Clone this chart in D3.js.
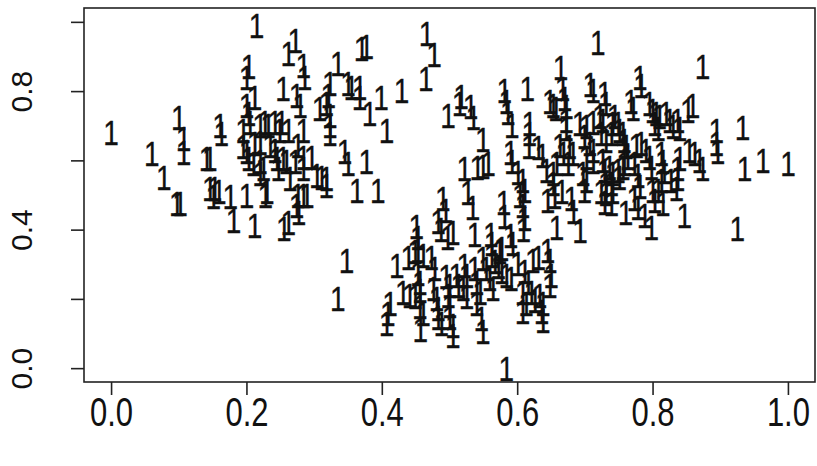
<!DOCTYPE html>
<html>
<head>
<meta charset="utf-8">
<script src="https://cdn.jsdelivr.net/npm/d3@7/dist/d3.min.js"></script>
<style>
  html, body { margin: 0; padding: 0; background: #fff; }
  svg { display: block; }
  text { font-family: "Liberation Sans", Arial, Helvetica, sans-serif; fill: #111; }
</style>
</head>
<body>
<svg id="chart" width="817" height="466"></svg>
<script>
// ---- data ----
const pointLabel = "1";
const xTicks = [0, 0.2, 0.4, 0.6, 0.8, 1.0];
const xTickLabels = ["0.0", "0.2", "0.4", "0.6", "0.8", "1.0"];
const yTicks = [0, 0.2, 0.4, 0.6, 0.8, 1.0];
const yTickLabels = ["0.0", "", "0.4", "", "0.8", ""];

// left cluster
const groupA = [
  [0.00,0.68],[0.06,0.62],[0.078,0.552],[0.097,0.476],[0.102,0.476],[0.100,0.723],[0.107,0.663],[0.107,0.624],
  [0.141,0.606],[0.146,0.606],[0.146,0.519],[0.153,0.519],[0.159,0.509],[0.151,0.495],[0.161,0.702],[0.163,0.678],
  [0.176,0.495],[0.181,0.427],[0.200,0.500],[0.212,0.413],[0.228,0.500],[0.195,0.687],[0.215,0.991],[0.272,0.947],
  [0.262,0.909],[0.377,0.928],[0.370,0.923],[0.203,0.870],[0.284,0.875],[0.335,0.880],[0.200,0.841],[0.286,0.841],
  [0.254,0.808],[0.323,0.822],[0.350,0.822],[0.355,0.812],[0.367,0.812],[0.274,0.788],[0.279,0.759],[0.321,0.788],
  [0.212,0.783],[0.200,0.759],[0.308,0.750],[0.318,0.764],[0.399,0.783],[0.429,0.803],[0.367,0.783],[0.382,0.736],
  [0.407,0.687],[0.323,0.731],[0.323,0.702],[0.323,0.678],[0.203,0.736],[0.205,0.711],[0.220,0.702],[0.227,0.711],
  [0.232,0.702],[0.242,0.711],[0.252,0.711],[0.249,0.687],[0.262,0.687],[0.284,0.687],[0.195,0.639],[0.200,0.625],
  [0.212,0.649],[0.220,0.653],[0.235,0.644],[0.242,0.630],[0.276,0.644],[0.203,0.606],[0.210,0.591],[0.220,0.596],
  [0.225,0.577],[0.245,0.606],[0.254,0.606],[0.259,0.596],[0.272,0.596],[0.284,0.610],[0.296,0.610],[0.284,0.577],
  [0.345,0.625],[0.350,0.591],[0.377,0.596],[0.304,0.557],[0.311,0.552],[0.318,0.548],[0.220,0.562],[0.247,0.577],
  [0.264,0.548],[0.230,0.509],[0.276,0.500],[0.284,0.500],[0.289,0.500],[0.274,0.471],[0.363,0.514],[0.394,0.514],
  [0.255,0.404],[0.262,0.422],[0.277,0.451],[0.318,0.528]
];

// right / lower cluster
const groupB = [
  [0.466,0.967],[0.477,0.907],[0.465,0.837],[0.498,0.731],[0.515,0.764],[0.517,0.785],[0.531,0.755],[0.535,0.723],
  [0.549,0.661],[0.522,0.578],[0.541,0.579],[0.549,0.583],[0.557,0.591],[0.581,0.803],[0.584,0.771],[0.586,0.739],
  [0.592,0.702],[0.615,0.808],[0.618,0.708],[0.618,0.678],[0.590,0.624],[0.592,0.598],[0.601,0.566],[0.608,0.543],
  [0.611,0.514],[0.617,0.639],[0.631,0.637],[0.637,0.615],[0.643,0.572],[0.648,0.771],[0.653,0.759],[0.657,0.750],
  [0.664,0.868],[0.719,0.942],[0.667,0.808],[0.670,0.779],[0.672,0.755],[0.672,0.716],[0.672,0.692],[0.663,0.644],
  [0.668,0.620],[0.677,0.639],[0.682,0.620],[0.675,0.591],[0.658,0.591],[0.653,0.562],[0.653,0.533],
  [0.645,0.485],[0.655,0.497],[0.666,0.511],[0.680,0.491],[0.683,0.453],
  [0.708,0.820],[0.712,0.803],[0.729,0.793],[0.731,0.764],[0.692,0.707],[0.702,0.697],[0.712,0.711],[0.722,0.726],
  [0.726,0.716],[0.699,0.668],[0.707,0.649],[0.712,0.630],[0.702,0.610],[0.712,0.596],[0.724,0.678],[0.731,0.658],
  [0.739,0.678],[0.726,0.601],[0.729,0.572],[0.731,0.533],[0.724,0.509],[0.731,0.504],[0.739,0.533],[0.697,0.562],
  [0.702,0.543],[0.699,0.514],[0.658,0.407],[0.693,0.399],
  [0.537,0.387],[0.561,0.387],[0.590,0.384],[0.609,0.401],[0.527,0.508],[0.534,0.465],
  [0.490,0.491],[0.494,0.456],[0.483,0.424],[0.487,0.401],[0.497,0.378],[0.505,0.393],
  [0.580,0.479],[0.581,0.439],[0.604,0.500],[0.608,0.471],[0.611,0.432],[0.593,0.361],
  [0.451,0.408],[0.453,0.378],[0.562,0.360],
  [0.348,0.312],[0.335,0.201],[0.422,0.297],[0.439,0.321],[0.449,0.336],[0.453,0.341],[0.461,0.326],[0.473,0.321],
  [0.478,0.288],[0.453,0.273],[0.456,0.249],[0.431,0.220],[0.441,0.211],[0.449,0.206],[0.412,0.187],[0.409,0.158],
  [0.407,0.129],[0.456,0.177],[0.461,0.158],[0.457,0.113],[0.476,0.230],[0.481,0.201],[0.483,0.172],[0.483,0.148],
  [0.488,0.129],[0.495,0.264],[0.500,0.240],[0.498,0.211],[0.500,0.182],[0.500,0.148],[0.505,0.124],[0.505,0.095],
  [0.510,0.269],[0.513,0.240],[0.522,0.297],[0.525,0.269],[0.520,0.230],[0.525,0.206],[0.537,0.288],[0.540,0.249],
  [0.545,0.220],[0.540,0.187],[0.547,0.144],[0.549,0.105],[0.549,0.317],[0.554,0.288],[0.559,0.259],[0.564,0.230],
  [0.562,0.326],[0.567,0.307],[0.572,0.293],[0.577,0.278],[0.584,0.269],[0.591,0.259],[0.574,0.336],[0.577,0.346],
  [0.601,0.302],[0.611,0.278],[0.616,0.249],[0.608,0.220],[0.613,0.187],[0.608,0.163],[0.623,0.312],[0.631,0.321],
  [0.645,0.341],[0.648,0.312],[0.621,0.220],[0.626,0.196],[0.633,0.211],[0.638,0.187],[0.636,0.163],[0.648,0.240],
  [0.650,0.269],[0.584,0.000],[0.456,0.225],[0.638,0.139],
  [0.729,0.480],[0.760,0.450],[0.773,0.490],[0.778,0.465],[0.788,0.442],[0.798,0.407],[0.847,0.442],[0.925,0.404],
  [0.835,0.519],[0.874,0.870],[0.781,0.841],[0.783,0.817],[0.768,0.769],[0.771,0.750],[0.795,0.764],[0.800,0.745],
  [0.805,0.736],[0.810,0.726],[0.803,0.707],[0.808,0.692],[0.820,0.736],[0.825,0.716],[0.830,0.697],[0.837,0.716],
  [0.840,0.692],[0.852,0.745],[0.859,0.759],[0.894,0.687],[0.894,0.649],[0.896,0.625],[0.933,0.694],[0.854,0.630],
  [0.862,0.620],[0.869,0.601],[0.874,0.577],[0.840,0.606],[0.837,0.577],[0.837,0.548],[0.827,0.543],[0.813,0.620],
  [0.815,0.596],[0.817,0.567],[0.813,0.543],[0.808,0.514],[0.815,0.476],[0.803,0.485],[0.800,0.514],[0.790,0.630],
  [0.795,0.610],[0.798,0.581],[0.783,0.649],[0.776,0.644],[0.773,0.591],[0.778,0.557],[0.781,0.524],[0.756,0.678],
  [0.758,0.658],[0.761,0.639],[0.763,0.610],[0.758,0.591],[0.741,0.707],[0.744,0.726],[0.749,0.707],[0.751,0.687],
  [0.736,0.581],[0.741,0.562],[0.749,0.572],[0.751,0.552],[0.756,0.581],[0.741,0.509],[0.739,0.476],[0.936,0.577],
  [0.963,0.601],[1.000,0.590]
];

// ---- layout ----
const box = { left: 84, right: 815, top: 8, bottom: 382 };
const svg = d3.select("#chart");

const x = d3.scaleLinear().domain([-0.04, 1.04]).range([box.left, box.right]);
const y = d3.scaleLinear().domain([-0.04, 1.04]).range([box.bottom, box.top]);

const allPoints = groupA.concat(groupB);

// points drawn as the character "1" (slightly tall, like the reference)
svg.append("g")
  .selectAll("text")
  .data(allPoints)
  .join("text")
  .attr("transform", d => `translate(${x(d[0])},${y(d[1])}) scale(1,1.25)`)
  .attr("dy", "0.36em")
  .attr("text-anchor", "middle")
  .attr("font-size", 28)
  .attr("stroke", "#111")
  .attr("stroke-width", 0.25)
  .text(pointLabel);

// frame
svg.append("rect")
  .attr("x", box.left).attr("y", box.top)
  .attr("width", box.right - box.left).attr("height", box.bottom - box.top)
  .attr("fill", "none").attr("stroke", "#222").attr("stroke-width", 1.6);

// x axis
const xAxis = d3.axisBottom(x).tickValues(xTicks).tickSize(13).tickPadding(12)
  .tickFormat((d, i) => xTickLabels[i]);
const gx = svg.append("g").attr("transform", `translate(0,${box.bottom})`).call(xAxis);
gx.select(".domain").remove();
gx.selectAll(".tick line").attr("stroke", "#222").attr("stroke-width", 1.6);
gx.selectAll(".tick text")
  .attr("font-size", 31)
  .attr("font-family", "Liberation Sans, Arial, sans-serif")
  .attr("fill", "#111")
  .attr("y", 0)
  .attr("dy", "0.36em")
  .attr("transform", "translate(0,29) scale(1,1.3)");

// y axis
const yAxis = d3.axisLeft(y).tickValues(yTicks).tickSize(13).tickPadding(0)
  .tickFormat((d, i) => yTickLabels[i]);
const gy = svg.append("g").attr("transform", `translate(${box.left},0)`).call(yAxis);
gy.select(".domain").remove();
gy.selectAll(".tick line").attr("stroke", "#222").attr("stroke-width", 1.6);
gy.selectAll(".tick text")
  .attr("font-size", 30)
  .attr("font-family", "Liberation Sans, Arial, sans-serif")
  .attr("fill", "#111")
  .attr("text-anchor", "middle")
  .attr("x", null)
  .attr("transform", "translate(-63,0) rotate(-90)")
  .attr("y", 0)
  .attr("dy", "0.36em");
</script>
</body>
</html>
